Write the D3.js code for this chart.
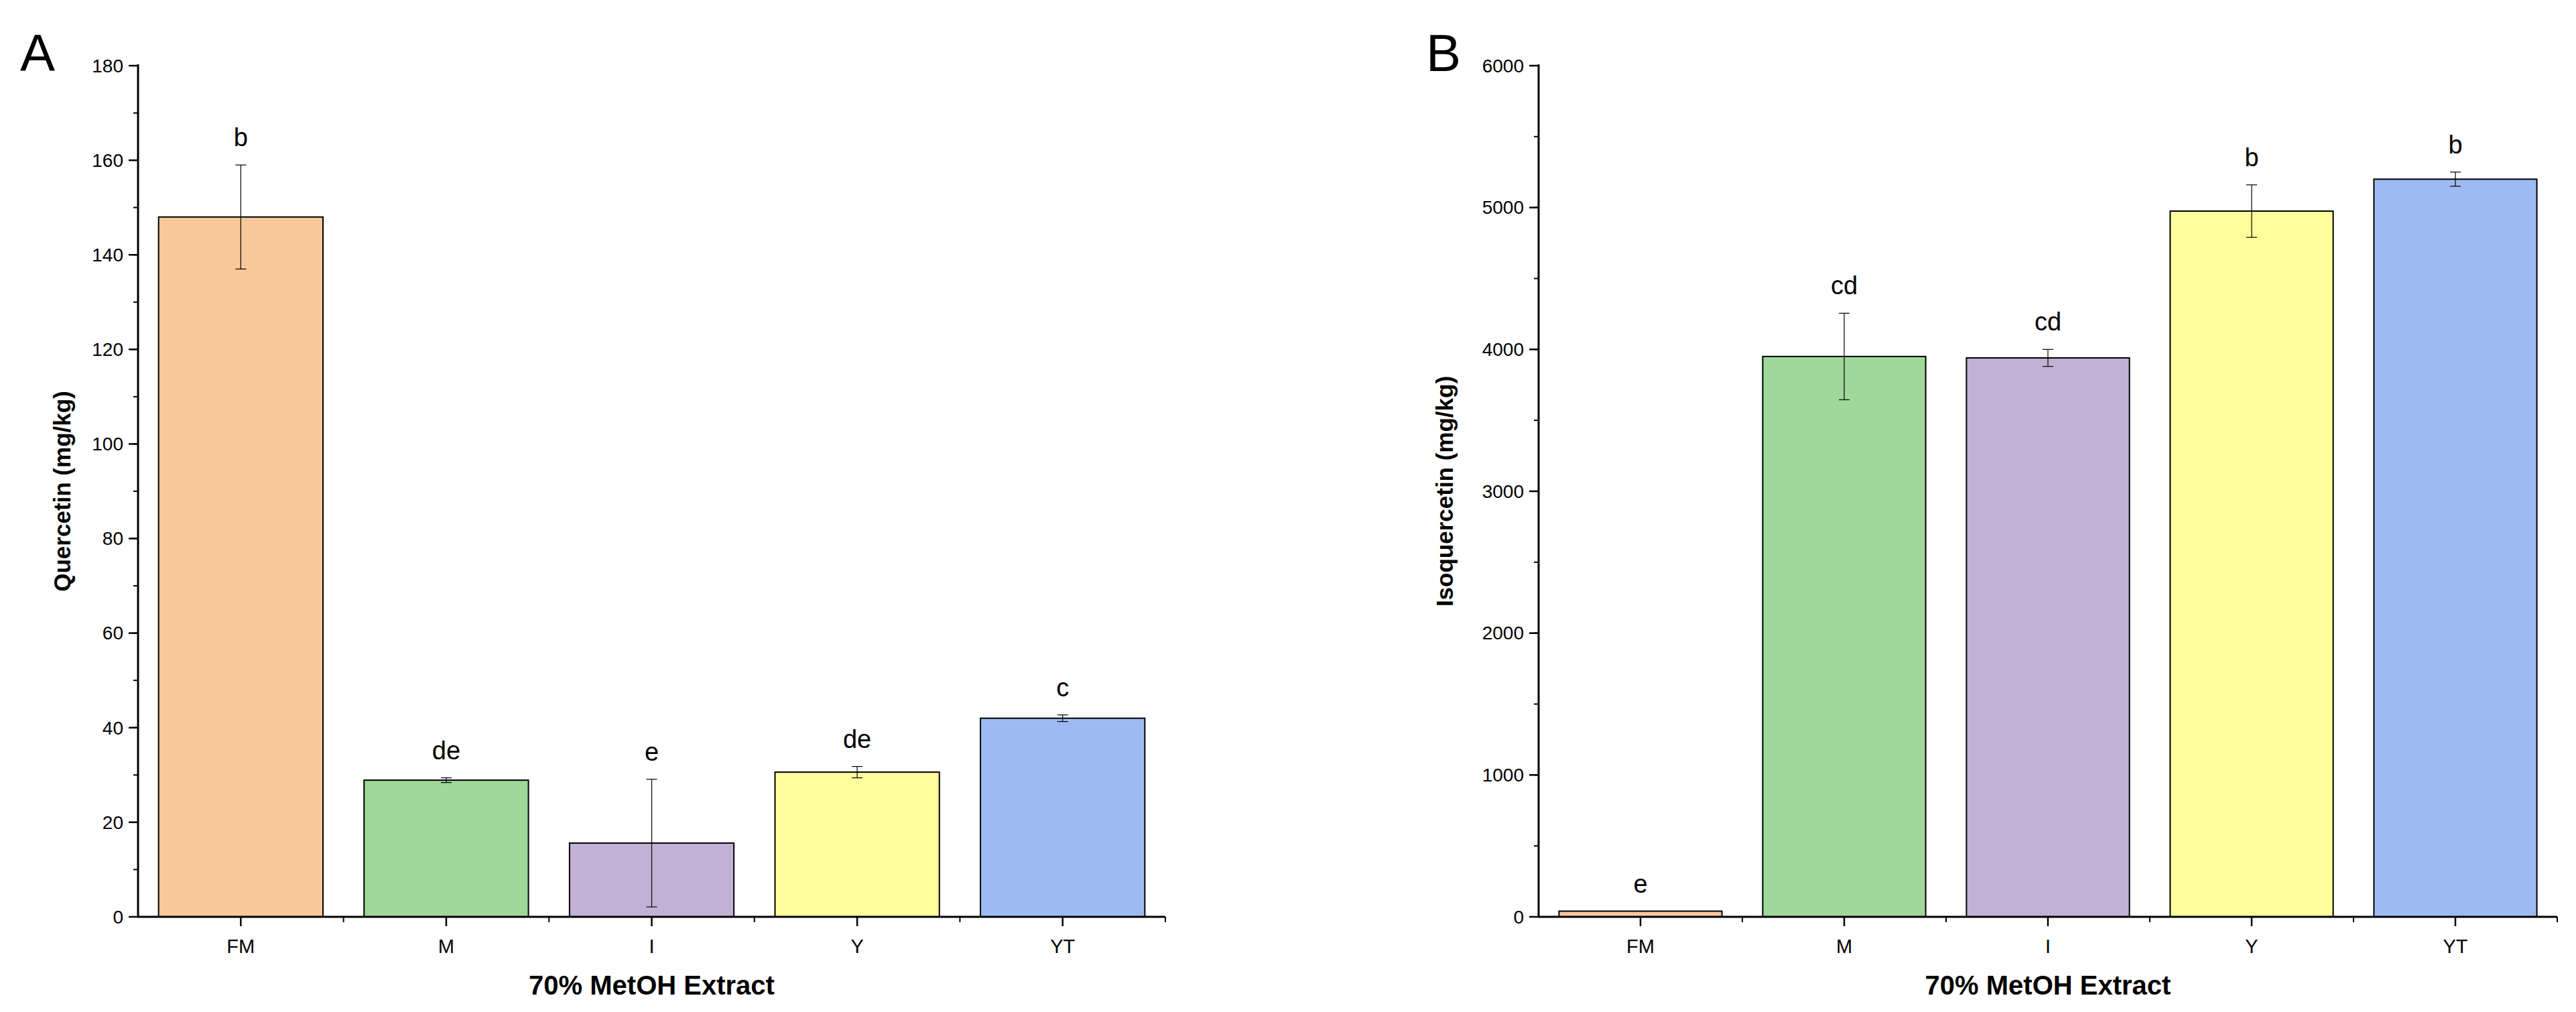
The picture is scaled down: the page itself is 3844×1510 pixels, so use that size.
<!DOCTYPE html>
<html><head><meta charset="utf-8">
<script src="https://cdn.jsdelivr.net/npm/d3@7"></script>
<style>body{margin:0;background:#fff}</style>
</head><body>
<script>
var categories = ["FM", "M", "I", "Y", "YT"];
var colors = ["#F9C89B", "#A0D79B", "#C3B1D5", "#FFFE9C", "#9DBBF2"];

var quercetin = [148, 28.9, 15.6, 30.6, 42];
var quercetinErr = [11, 0.5, 13.5, 1.2, 0.7];
var quercetinLetters = ["b", "de", "e", "de", "c"];
var quercetinTicks = [0, 20, 40, 60, 80, 100, 120, 140, 160, 180];

var isoq = [40, 3950, 3940, 4975, 5200];
var isoqErr = [0, 305, 60, 185, 50];
var isoqLetters = ["e", "cd", "cd", "b", "b"];
var isoqTicks = [0, 1000, 2000, 3000, 4000, 5000, 6000];

var W = 3844, H = 1510;
var svg = d3.select("body").append("svg").attr("width", W).attr("height", H);

var narrow = "'Liberation Sans Narrow', 'Arial Narrow', 'Liberation Sans', sans-serif";

function panel(opt) {
  var g = svg.append("g");
  var x = d3.scaleBand().domain(categories).range([opt.x0, opt.x1]).paddingInner(0.2).paddingOuter(0.1);
  var y = d3.scaleLinear().domain([0, opt.max]).range([1368, 98]);

  // minor y ticks
  g.selectAll(".ym").data(d3.range(0, opt.max + 1e-9, opt.minor)).enter().append("line")
    .attr("x1", opt.x0).attr("x2", opt.x0 - 7)
    .attr("y1", function(d) { return y(d); }).attr("y2", function(d) { return y(d); })
    .attr("stroke", "#000").attr("stroke-width", 2);
  g.selectAll(".yM").data(opt.ticks).enter().append("line")
    .attr("x1", opt.x0).attr("x2", opt.x0 - 14)
    .attr("y1", function(d) { return y(d); }).attr("y2", function(d) { return y(d); })
    .attr("stroke", "#000").attr("stroke-width", 2.5);
  g.selectAll(".yl").data(opt.ticks).enter().append("text")
    .attr("x", opt.x0 - 22).attr("y", function(d) { return y(d); }).attr("dy", "0.35em")
    .attr("text-anchor", "end").attr("font-family", narrow).attr("font-size", 28)
    .text(function(d) { return d; });

  // bars
  g.selectAll(".bar").data(categories).enter().append("rect")
    .attr("x", function(d) { return x(d); }).attr("width", x.bandwidth())
    .attr("y", function(d, i) { return y(opt.values[i]); })
    .attr("height", function(d, i) { return y(0) - y(opt.values[i]); })
    .attr("fill", function(d, i) { return colors[i]; })
    .attr("stroke", "#000").attr("stroke-width", 2);

  // error bars
  categories.forEach(function(c, i) {
    var cx = x(c) + x.bandwidth() / 2;
    var lo = y(opt.values[i] - opt.err[i]), hi = y(opt.values[i] + opt.err[i]);
    if (opt.err[i] > 0) {
      g.append("line").attr("x1", cx).attr("x2", cx).attr("y1", lo).attr("y2", hi).attr("stroke", "#000").attr("stroke-width", 1.2);
      [lo, hi].forEach(function(yy) {
        g.append("line").attr("x1", cx - 8).attr("x2", cx + 8).attr("y1", yy).attr("y2", yy).attr("stroke", "#000").attr("stroke-width", 1.2);
      });
    }
    g.append("text").attr("x", cx).attr("y", hi - 28).attr("text-anchor", "middle")
      .attr("font-family", narrow).attr("font-size", 38).text(opt.letters[i]);
  });

  // axes lines
  g.append("line").attr("x1", opt.x0).attr("x2", opt.x0).attr("y1", 96).attr("y2", 1369).attr("stroke", "#000").attr("stroke-width", 3);
  g.append("line").attr("x1", opt.x0 - 1).attr("x2", opt.x1).attr("y1", 1368).attr("y2", 1368).attr("stroke", "#000").attr("stroke-width", 3);

  // x ticks
  var step = x.step();
  categories.forEach(function(c) {
    var cx = x(c) + x.bandwidth() / 2;
    g.append("line").attr("x1", cx).attr("x2", cx).attr("y1", 1368).attr("y2", 1382).attr("stroke", "#000").attr("stroke-width", 2.5);
    g.append("line").attr("x1", cx + step / 2).attr("x2", cx + step / 2).attr("y1", 1368).attr("y2", 1376).attr("stroke", "#000").attr("stroke-width", 2);
    g.append("text").attr("x", cx).attr("y", 1422).attr("text-anchor", "middle")
      .attr("font-family", narrow).attr("font-size", 29).text(c);
  });

  g.append("text").attr("x", (opt.x0 + opt.x1) / 2).attr("y", 1484).attr("text-anchor", "middle")
    .attr("font-family", narrow).attr("font-weight", "bold").attr("font-size", 40).text("70% MetOH Extract");
  g.append("text").attr("transform", "translate(" + opt.labelX + "," + 733 + ") rotate(-90)")
    .attr("text-anchor", "middle").attr("font-family", "'Liberation Sans', Arial, sans-serif")
    .attr("font-weight", "bold").attr("font-size", 35).text(opt.label);
  g.append("text").attr("x", opt.letterX).attr("y", 106).attr("font-family", "'Liberation Sans', Arial, sans-serif")
    .attr("font-size", 78).text(opt.panel);
}

panel({ x0: 206, x1: 1739, max: 180, minor: 10, ticks: quercetinTicks, values: quercetin, err: quercetinErr,
  letters: quercetinLetters, label: "Quercetin (mg/kg)", labelX: 105, letterX: 30, panel: "A" });
panel({ x0: 2296, x1: 3816, max: 6000, minor: 500, ticks: isoqTicks, values: isoq, err: isoqErr,
  letters: isoqLetters, label: "Isoquercetin (mg/kg)", labelX: 2168, letterX: 2128, panel: "B" });
</script>
</body></html>
